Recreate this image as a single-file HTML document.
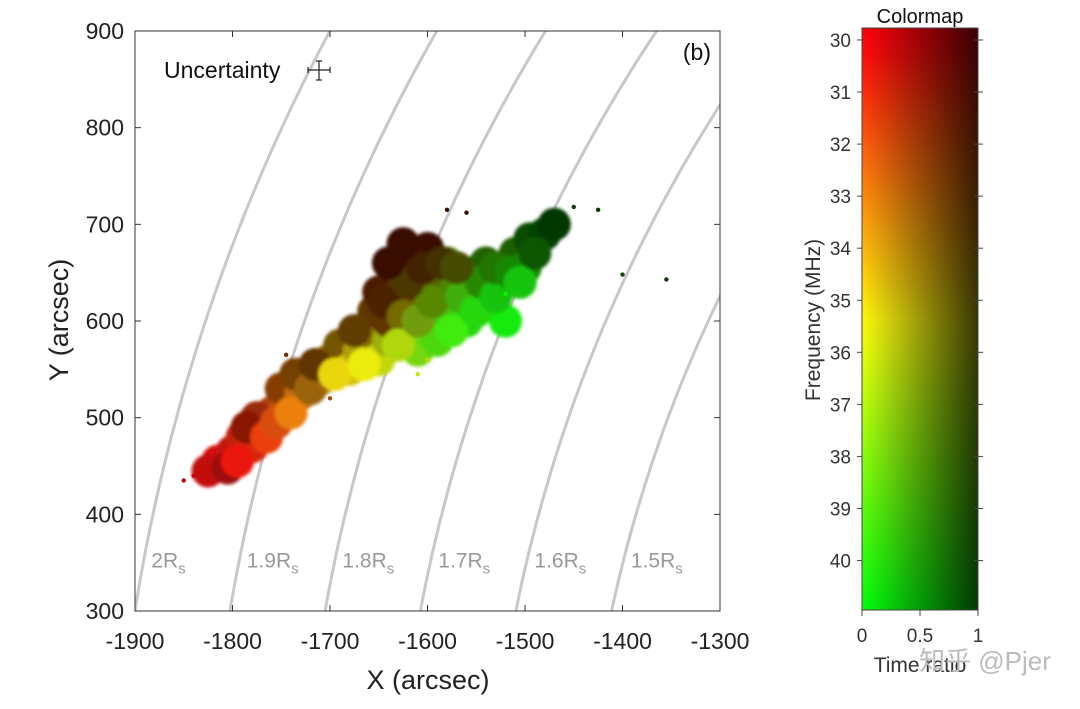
<!DOCTYPE html>
<html><head><meta charset="utf-8"><style>
html,body{margin:0;padding:0;background:#fff;width:1080px;height:709px;overflow:hidden}
svg{display:block;font-family:"Liberation Sans",Arial,sans-serif}
</style></head><body>
<svg id="chart" width="1080" height="709" viewBox="0 0 1080 709">
<defs>
<clipPath id="plotclip"><rect x="135" y="31" width="585" height="580"/></clipPath>
<filter id="soft"><feGaussianBlur stdDeviation="1.6"/></filter>
<linearGradient id="cbBase" x1="0" y1="0" x2="0" y2="1"></linearGradient>
<linearGradient id="cbDark" x1="0" y1="0" x2="1" y2="0">
<stop offset="0" stop-color="#000" stop-opacity="0"/><stop offset="1" stop-color="#000" stop-opacity="0.78"/>
</linearGradient>
</defs>
<g id="main"></g>
<g id="cbar"></g>
</svg>
<script>
const NS='http://www.w3.org/2000/svg';
const xTicks=[-1900,-1800,-1700,-1600,-1500,-1400,-1300];
const yTicks=[300,400,500,600,700,800,900];
const radii=[2,1.9,1.8,1.7,1.6,1.5];
const radiusLabels=['2','1.9','1.8','1.7','1.6','1.5'];
const solarRadius=961.8;
const ptX=[-1815,-1800,-1790,-1780,-1770,-1760,-1775,-1745,-1750,-1730,-1735,-1710,-1700,-1690,-1680,-1670,-1660,-1650,-1655,-1640,-1650,-1630,-1615,-1600,-1640,-1620,-1610,-1600,-1590,-1580,-1570,-1560,-1555,-1540,-1540,-1525,-1520,-1510,-1495,-1480,-1500,-1610,-1590,-1625,-1580,
 -1825,-1805,-1795,-1785,-1765,-1755,-1740,-1720,-1715,-1695,-1675,-1665,-1645,-1625,-1630,-1610,-1595,-1575,-1565,-1550,-1545,-1530,-1530,-1515,-1505,-1490,-1470,-1620,-1605,-1585,-1570,-1640,-1625];
const ptY=[455,465,480,470,490,505,500,515,530,525,545,540,560,575,550,570,590,560,610,580,630,650,665,675,600,590,620,600,640,610,635,600,650,620,660,640,600,670,685,690,655,570,580,635,660,
 445,448,455,490,480,495,505,530,555,545,590,555,620,605,575,600,620,590,625,610,640,625,655,650,640,670,700,640,655,660,655,660,680];
const ptFreq=[30.3,30.5,31,31,31.5,32,31.5,32.5,32.5,33,33,34,34,34,35,35,34.5,36,33,36,32,31.5,31,31,33,37,36,38,36,39,38,40,38,40,39,40,40.5,39.5,40,40.5,40,38,39,33,37,
 30.2,30.3,30.5,31,31.5,32,33,33.5,33,35,33.5,35.5,32.5,35,36.5,37,37.5,39.5,39,40,39.5,40.5,39.5,40,40.5,40,40.5,34,33,34,36,31,31];
const ptRatio=[0.2,0.3,0.3,0.2,0.3,0.4,0.5,0.3,0.6,0.3,0.7,0.3,0.5,0.7,0.2,0.4,0.6,0.2,0.8,0.4,0.9,0.95,1,1,0.8,0.3,0.7,0.4,0.8,0.3,0.6,0.2,0.8,0.3,0.8,0.5,0.1,0.8,0.9,0.95,0.6,0.2,0.2,0.85,0.7,
 0.3,0.5,0.1,0.6,0.1,0.2,0.1,0.5,0.8,0.1,0.8,0.1,0.9,0.7,0.2,0.5,0.6,0.1,0.4,0.2,0.6,0.3,0.7,0.6,0.3,0.85,1,0.9,0.95,0.95,0.9,1,1];
const outX=[-1400,-1355,-1450,-1425,-1580,-1560,-1840,-1850,-1520,-1470,-1700,-1745,-1600,-1610];
const outY=[648,643,718,715,715,712,440,435,628,700,520,565,560,545];
const outFreq=[40,40,40,40,31,31,30.2,30.2,40.5,40,33,32,36,36.5];
const outRatio=[0.9,1,1,1,1,1,0.3,0.4,0.1,1,0.5,0.7,0.2,0.1];
const cbTicks=[30,31,32,33,34,35,36,37,38,39,40];
const cbXTicks=[0,0.5,1];
const cbXLabels=['0','0.5','1'];

const X0=135,X1=720,Y0=611,Y1=31;
const sx=v=>X0+(v+1900)/600*(X1-X0);
const sy=v=>Y0-(v-300)/600*(Y0-Y1);
const sr=d=>d/600*(X1-X0);
function baseRGB(f){let r,g;if(f<35.5){r=255;g=255*(f-30)/5.5;}else{r=255*(41-f)/5.5;g=255;}
 return [Math.max(0,Math.min(255,r)),Math.max(0,Math.min(255,g))];}
function col(f,t){const [r,g]=baseRGB(f);const k=1-0.78*t;
 return `rgb(${Math.round(r*k)},${Math.round(g*k)},${Math.round(12*k)})`;}
function el(tag,attrs,parent,text){const e=document.createElementNS(NS,tag);for(const k in attrs)e.setAttribute(k,attrs[k]);if(text!==undefined)e.textContent=text;parent.appendChild(e);return e;}
const main=document.getElementById('main');
const clip=el('g',{'clip-path':'url(#plotclip)'},main);
radii.forEach((R,i)=>{const r=R*solarRadius;let d='';for(let y=250;y<=950;y+=10){const x=-Math.sqrt(r*r-y*y);d+=(d?'L':'M')+sx(x).toFixed(1)+','+sy(y).toFixed(1);}
 const p=el('path',{d:d,fill:'none',stroke:'#c8c8c8','stroke-width':3},clip);
 
 
 const lx=sx(-Math.sqrt(r*r-350*350))+8;
 const t=el('text',{x:lx,y:sy(345),fill:'#999','font-size':21},main,radiusLabels[i]+'R');
 el('tspan',{'font-size':15,dy:6},t,'s');
 
 });
const cloud=el('g',{filter:'url(#soft)'},clip);
ptX.forEach((x,i)=>{const c=el('circle',{cx:sx(x),cy:sy(ptY[i]),r:sr(17),fill:col(ptFreq[i],ptRatio[i])},cloud);
 
 });
outX.forEach((x,i)=>{const c=el('circle',{cx:sx(x),cy:sy(outY[i]),r:2.2,fill:col(outFreq[i],outRatio[i])},clip);
 
 });
const box=el('rect',{x:X0,y:Y1,width:X1-X0,height:Y0-Y1,fill:'none',stroke:'#333','stroke-width':1},main);


xTicks.forEach(v=>{const x=sx(v);el('line',{x1:x,x2:x,y1:Y0,y2:Y0-6,stroke:'#333'},main);el('line',{x1:x,x2:x,y1:Y1,y2:Y1+6,stroke:'#333'},main);
 const t=el('text',{x:x,y:649,'text-anchor':'middle','font-size':23,fill:'#222'},main,String(v));
 
 });
yTicks.forEach(v=>{const y=sy(v);el('line',{x1:X0,x2:X0+6,y1:y,y2:y,stroke:'#333'},main);el('line',{x1:X1,x2:X1-6,y1:y,y2:y,stroke:'#333'},main);
 const t=el('text',{x:124,y:y+8,'text-anchor':'end','font-size':23,fill:'#222'},main,String(v));
 
 });
let t=el('text',{x:428,y:689,'text-anchor':'middle','font-size':27,fill:'#222'},main,'X (arcsec)');

t=el('text',{x:0,y:0,'text-anchor':'middle','font-size':27,fill:'#222',transform:'translate(68,320) rotate(-90)'},main,'Y (arcsec)');

t=el('text',{x:164,y:78,'font-size':23,fill:'#111'},main,'Uncertainty');

const un=el('g',{stroke:'#222','stroke-width':1.2},main);

el('line',{x1:308,x2:330,y1:70,y2:70},un);el('line',{x1:319,x2:319,y1:61,y2:80},un);
el('line',{x1:308,x2:308,y1:67,y2:73},un);el('line',{x1:330,x2:330,y1:67,y2:73},un);
el('line',{x1:316,x2:322,y1:61,y2:61},un);el('line',{x1:316,x2:322,y1:80,y2:80},un);
t=el('text',{x:711,y:60,'text-anchor':'end','font-size':23,fill:'#111'},main,'(b)');


// colorbar
const cb=document.getElementById('cbar');
const CX0=862,CX1=978,CY0=28,CY1=610;
const fTop=29.77,fBot=40.95;
const cy=f=>CY0+(f-fTop)/(fBot-fTop)*(CY1-CY0);
const cx=v=>CX0+v*(CX1-CX0);
const grad=document.getElementById('cbBase');
for(let i=0;i<=20;i++){const f=fTop+i/20*(fBot-fTop);const [r,g]=baseRGB(f);
 el('stop',{offset:i/20,'stop-color':`rgb(${Math.round(r)},${Math.round(g)},12)`},grad);}
el('rect',{x:CX0,y:CY0,width:CX1-CX0,height:CY1-CY0,fill:'url(#cbBase)'},cb);
el('rect',{x:CX0,y:CY0,width:CX1-CX0,height:CY1-CY0,fill:'url(#cbDark)'},cb);
const cbf=el('rect',{x:CX0,y:CY0,width:CX1-CX0,height:CY1-CY0,fill:'none',stroke:'#444'},cb);

cbTicks.forEach(v=>{const y=cy(v);el('line',{x1:CX0,x2:CX0-5,y1:y,y2:y,stroke:'#444'},cb);el('line',{x1:CX1-4,x2:CX1+5,y1:y,y2:y,stroke:'#444'},cb);
 const t=el('text',{x:851,y:y+7,'text-anchor':'end','font-size':19,fill:'#333'},cb,String(v));
 });
cbXTicks.forEach((v,i)=>{const x=cx(v);el('line',{x1:x,x2:x,y1:CY1,y2:CY1+6,stroke:'#444'},cb);
 const t=el('text',{x:x,y:642,'text-anchor':'middle','font-size':19,fill:'#333'},cb,cbXLabels[i]);
 });
t=el('text',{x:920,y:23,'text-anchor':'middle','font-size':20,fill:'#111'},cb,'Colormap');

t=el('text',{x:0,y:0,'text-anchor':'middle','font-size':21,fill:'#333',transform:'translate(820,320) rotate(-90)'},cb,'Frequency (MHz)');

t=el('text',{x:920,y:672,'text-anchor':'middle','font-size':21,fill:'#333'},cb,'Time ratio');

t=el('text',{x:985,y:670,'text-anchor':'middle','font-size':26,fill:'#bbb','font-family':'"Liberation Sans","Noto Sans CJK SC",sans-serif'},cb,'知乎 @Pjer');

</script>
</body></html>
